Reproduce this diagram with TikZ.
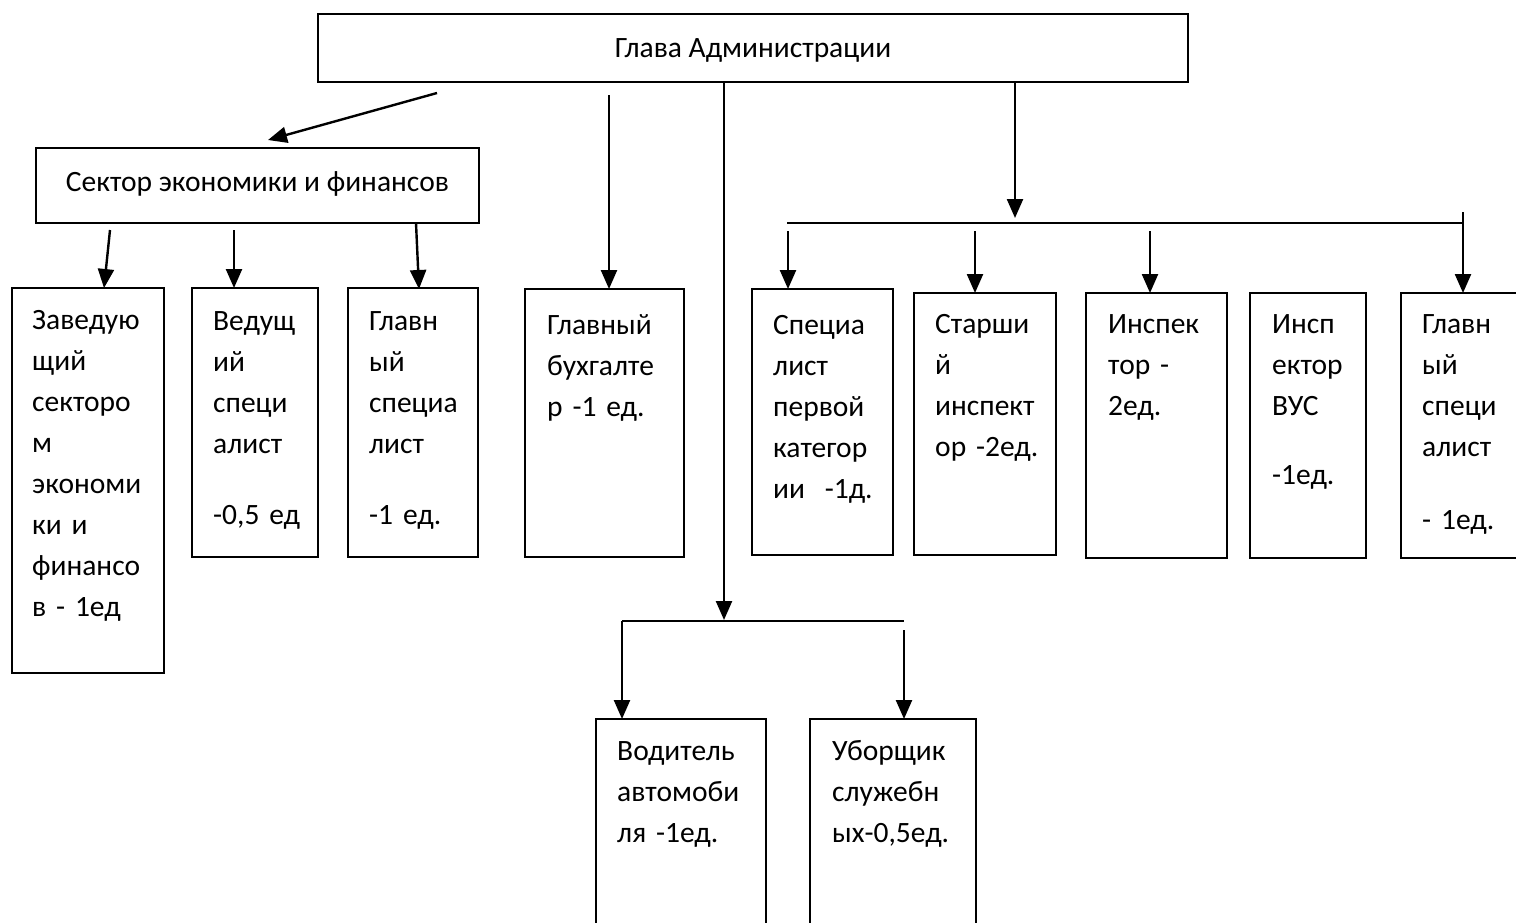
\documentclass[tikz,border=0pt]{standalone}
\usepackage{fontspec}
\setmainfont{Carlito}
\usetikzlibrary{arrows.meta}
\begin{document}
\begin{tikzpicture}[x=1pt,y=-1pt,
  box/.style={draw, line width=1.7pt, inner sep=0pt, outer sep=0pt, anchor=north west},
  lbl/.style={anchor=base west, inner sep=0pt, text width=220pt, align=left, font=\fontsize{29.5}{41}\selectfont},
  ctr/.style={anchor=base, inner sep=0pt, font=\fontsize{29.5}{41}\selectfont},
  conn/.style={line width=2.4pt},
  arr/.style={conn, -{Triangle[length=19pt,width=16pt]}}]
\clip (0,0) rectangle (1516,922);
\fill[white] (0,0) rectangle (1516,922);

% top box
\node[box, minimum width=870pt, minimum height=68pt] (top) at (318,14) {};
\node[ctr] (topt) at (753,57) {Глава Администрации};

% sector box
\node[box, minimum width=443pt, minimum height=75pt] (sec) at (36,148) {};
\node[ctr] (sect) at (257.5,191) {Сектор экономики и финансов};

% row boxes
\node[box, minimum width=152pt, minimum height=385pt] (A) at (12,288) {};
\node[box, minimum width=126pt, minimum height=269pt] (B) at (192,288) {};
\node[box, minimum width=130pt, minimum height=269pt] (C) at (348,288) {};
\node[box, minimum width=159pt, minimum height=268pt] (D) at (525,289) {};
\node[box, minimum width=141pt, minimum height=266pt] (E) at (752,289) {};
\node[box, minimum width=142pt, minimum height=262pt] (F) at (914,293) {};
\node[box, minimum width=141pt, minimum height=265pt] (G) at (1086,293) {};
\node[box, minimum width=116pt, minimum height=265pt] (H) at (1250,293) {};
\node[box, minimum width=140pt, minimum height=265pt] (I) at (1401,293) {};
\node[box, minimum width=170pt, minimum height=240pt] (J) at (596,719) {};
\node[box, minimum width=166pt, minimum height=240pt] (K) at (810,719) {};

% texts
\node[lbl] (At) at (32,329) {Заведую\\щий\\секторо\\м\\экономи\\ки и\\финансо\\в - 1ед};
\node[lbl] (Bt) at (213,330) {Ведущ\\ий\\специ\\алист\\[30pt]-0,5 ед};
\node[lbl] (Ct) at (369,330) {Главн\\ый\\специа\\лист\\[30pt]-1 ед.};
\node[lbl] (Dt) at (547,334) {Главный\\бухгалте\\р -1 ед.};
\node[lbl] (Et) at (773,334) {Специа\\лист\\первой\\категор\\ии~ -1д.};
\node[lbl] (Ft) at (935,333) {Старши\\й\\инспект\\ор -2ед.};
\node[lbl] (Gt) at (1108,333) {Инспек\\тор -\\2ед.};
\node[lbl] (Ht) at (1272,333) {Инсп\\ектор\\ВУС\\[28pt]-1ед.};
\node[lbl] (It) at (1422,333) {Главн\\ый\\специ\\алист\\[32pt]- 1ед.};
\node[lbl] (Jt) at (617,760) {Водитель\\автомоби\\ля -1ед.};
\node[lbl] (Kt) at (832,760) {Уборщик\\служебн\\ых-0,5ед.};

% coordinates for free ends
\coordinate (d0) at (437,93);
\coordinate (d1) at (268,140);
\coordinate (s1) at (110,230);
\coordinate (s1e) at (104,288);
\coordinate (s2) at (234,230);
\coordinate (s3) at (416,223);
\coordinate (s3e) at (419,289);
\coordinate (b0) at (609,95);
\coordinate (m0) at (724,82);
\coordinate (m1) at (724,620);
\coordinate (hl) at (622,621);
\coordinate (hr) at (904,621);
\coordinate (r0) at (904,630);
\coordinate (g0) at (1015,82);
\coordinate (g1) at (1015,218);
\coordinate (gl) at (787,223);
\coordinate (gr) at (1463,223);
\coordinate (gt) at (1463,212);
\coordinate (e0) at (788,231);
\coordinate (f0) at (975,231);
\coordinate (k0) at (1150,231);

% connectors
\draw[arr] (d0) -- (d1);
\draw[arr] (s1) -- (s1e);
\draw[arr] (s2) -- (s2 |- B.north);
\draw[arr] (s3) -- (s3e);
\draw[arr] (b0) -- (b0 |- D.north);
\draw[arr] (m0) -- (m1);
\draw[conn] (hl) -- (hr);
\draw[arr] (hl) -- (hl |- J.north);
\draw[arr] (r0) -- (r0 |- K.north);
\draw[arr] (g0) -- (g1);
\draw[conn] (gl) -- (gr);
\draw[arr] (gt) -- (gt |- I.north);
\draw[arr] (e0) -- (e0 |- E.north);
\draw[arr] (f0) -- (f0 |- F.north);
\draw[arr] (k0) -- (k0 |- G.north);
\end{tikzpicture}
\end{document}
